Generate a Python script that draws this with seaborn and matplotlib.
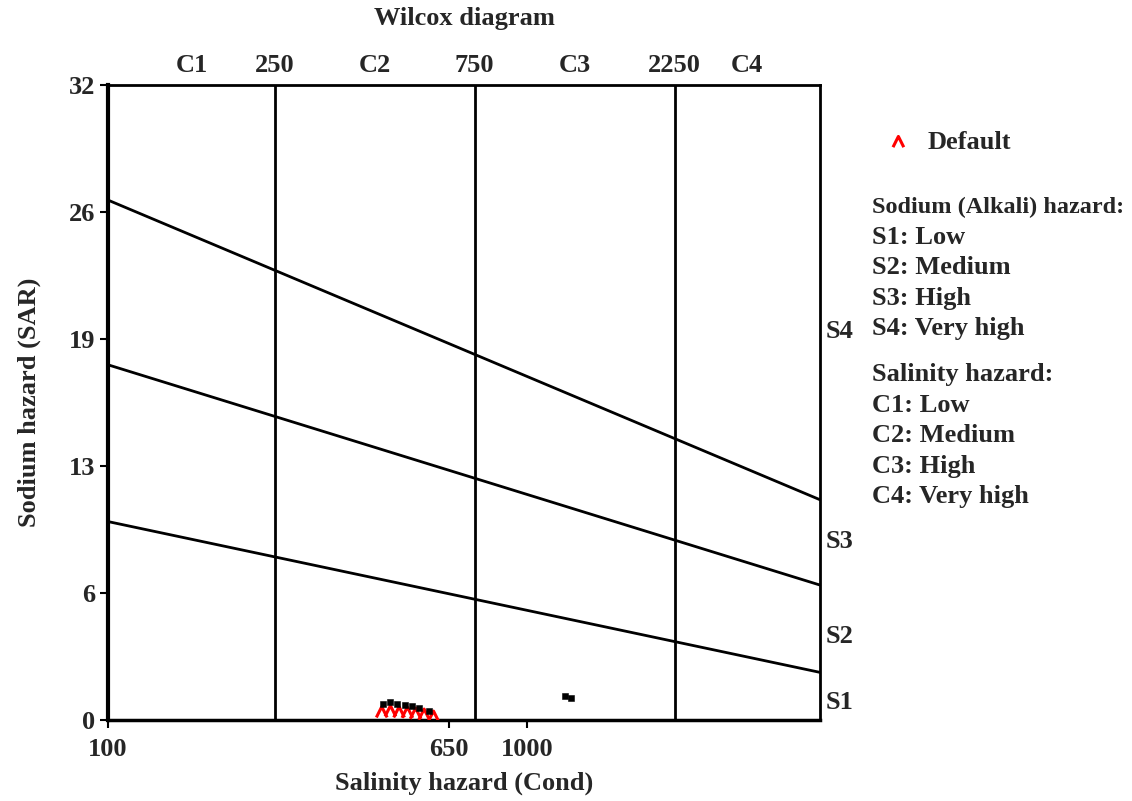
import numpy as np
import pandas as pd
import seaborn as sns
import matplotlib.pyplot as plt
from matplotlib.path import Path

# limites das classes de salinidade (Cond, uS/cm)
cond_bounds = [250, 750, 2250]
cond_bound_labels = ['250', '750', '2250']
cond_classes = ['C1', 'C2', 'C3', 'C4']
x_min, x_max = 100, 5000

# linhas de separação entre classes de sódio (SAR em Cond=100 e Cond=5000)
line_cond = [100, 5000]
s1_s2 = [10.0, 2.4]
s2_s3 = [17.9, 6.8]
s3_s4 = [26.2, 11.1]

sar_ticks = [0, 6.4, 12.8, 19.2, 25.6, 32]
sar_tick_labels = ['0', '6', '13', '19', '26', '32']
cond_ticks = [100, 650, 1000]
cond_tick_labels = ['100', '650', '1000']

s_classes = ['S1', 'S2', 'S3', 'S4']
s_label_sar = [0.86, 4.2, 9.0, 19.6]

# amostras
default_cond = [450, 472, 495, 518, 542, 568, 598]
default_sar = [0.4, 0.45, 0.4, 0.38, 0.33, 0.28, 0.18]
other_cond = [452, 470, 490, 510, 530, 552, 585, 1230, 1275]
other_sar = [0.8, 0.9, 0.8, 0.75, 0.72, 0.62, 0.45, 1.2, 1.1]

legend_lines = ['Sodium (Alkali) hazard:', 'S1: Low', 'S2: Medium', 'S3: High',
                'S4: Very high']
legend_lines2 = ['Salinity hazard:', 'C1: Low', 'C2: Medium', 'C3: High',
                 'C4: Very high']

sns.set_style('white')
plt.rcParams['font.family'] = ['Liberation Serif', 'DejaVu Serif']
plt.rcParams['font.weight'] = 'bold'
plt.rcParams['axes.labelweight'] = 'bold'
fs = 19

fig = plt.figure(figsize=(11.32, 8.01), dpi=100)
ax = fig.add_axes([108 / 1132, 1 - 720 / 801, 712 / 1132, 635 / 801])
ax.set_xscale('log')

# linhas inclinadas
lines_df = pd.DataFrame({
    'cond': line_cond * 3,
    'sar': s1_s2 + s2_s3 + s3_s4,
    'linha': ['S1/S2'] * 2 + ['S2/S3'] * 2 + ['S3/S4'] * 2,
})
sns.lineplot(data=lines_df, x='cond', y='sar', units='linha', estimator=None,
             color='black', linewidth=2, ax=ax, legend=False)

for b in cond_bounds:
    ax.axvline(b, color='black', linewidth=2)

# marcador em forma de acento circunflexo
caret = Path([(-1, -1), (0, 1), (1, -1)], [Path.MOVETO, Path.LINETO, Path.LINETO])

# pontos
sns.scatterplot(x=default_cond, y=default_sar, marker=caret, s=60,
                facecolor='none', edgecolor='red', linewidth=2.2, ax=ax,
                label='Default', zorder=3)
sns.scatterplot(x=other_cond, y=other_sar, color='black', marker='s', s=22,
                edgecolor='black', ax=ax, zorder=4)

ax.set_xlim(x_min, x_max)
ax.set_ylim(0, 32)
ax.set_yticks(sar_ticks)
ax.set_yticklabels(sar_tick_labels, fontsize=fs)
ax.set_xticks(cond_ticks)
ax.set_xticklabels(cond_tick_labels, fontsize=fs)
ax.minorticks_off()
ax.tick_params(axis='both', direction='out', length=6, width=1.5, color='black',
               left=True, bottom=True)
ax.tick_params(axis='x', pad=7)
ax.tick_params(axis='y', pad=3)

for side, w in [('left', 3), ('bottom', 2.5), ('top', 2), ('right', 2)]:
    ax.spines[side].set_color('black')
    ax.spines[side].set_linewidth(w)

# rótulos das classes no topo
trans = ax.get_xaxis_transform()
edges = [x_min] + cond_bounds + [x_max]
for i, c in enumerate(cond_classes):
    xc = np.sqrt(edges[i] * edges[i + 1])
    ax.text(xc, 1.012, c, transform=trans, ha='center', va='bottom', fontsize=fs)
for b, lab in zip(cond_bounds, cond_bound_labels):
    ax.text(b, 1.012, lab, transform=trans, ha='center', va='bottom', fontsize=fs)

# rótulos S à direita
ytrans = ax.get_yaxis_transform()
for s, y in zip(s_classes, s_label_sar):
    ax.text(1.008, y, s, transform=ytrans, ha='left', va='center', fontsize=fs)

fig.text(464 / 1132, 1 - 18 / 801, 'Wilcox diagram', ha='center', va='center',
         fontsize=fs)
ax.set_xlabel('Salinity hazard (Cond)', fontsize=fs)
ax.set_ylabel('Sodium hazard (SAR)', fontsize=fs)
ax.xaxis.set_label_coords(0.5, -0.082)
ax.yaxis.set_label_coords(-0.094, 0.5)

ax.legend(loc='center left', bbox_to_anchor=(872 / 1132, 1 - 142 / 801),
          bbox_transform=fig.transFigure, frameon=False, fontsize=fs,
          handletextpad=0.5, handlelength=1.2, borderaxespad=0)

# texto explicativo à direita (primeira linha um pouco menor para caber)
for i, t in enumerate(legend_lines):
    fig.text(872 / 1132, 1 - (207 + 30.5 * i) / 801, t, ha='left', va='center',
             fontsize=17.5 if i == 0 else fs)
for i, t in enumerate(legend_lines2):
    fig.text(872 / 1132, 1 - (375 + 30.5 * i) / 801, t, ha='left', va='center',
             fontsize=fs)

fig.savefig('out.png', dpi=100)
